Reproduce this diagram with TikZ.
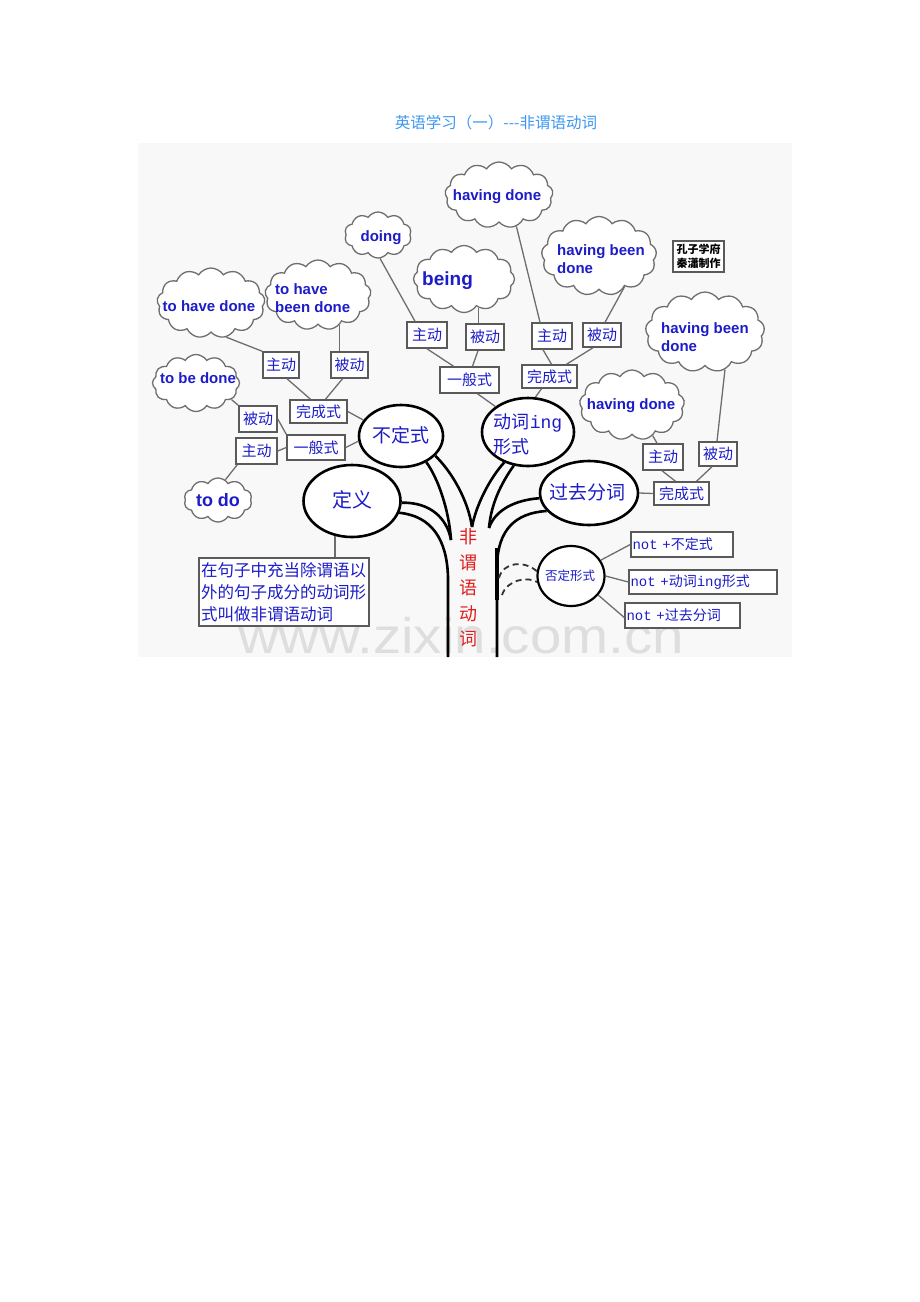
\documentclass[tikz,border=0pt]{standalone}
\usepackage{fontspec}
\setmainfont{Liberation Sans}
\newfontfamily\cjk{Noto Sans CJK SC}
\newfontfamily\mono{Liberation Mono}
\usetikzlibrary{shapes.symbols,shapes.geometric,calc}
\definecolor{tblue}{RGB}{28,28,200}
\definecolor{ttl}{RGB}{60,150,240}
\definecolor{tred}{RGB}{225,30,30}
\definecolor{lgray}{RGB}{110,110,110}
\definecolor{bgray}{RGB}{90,90,90}
\definecolor{wmc}{RGB}{222,222,222}
\definecolor{bgc}{RGB}{248,248,248}
\tikzset{
  cld/.style={cloud, cloud puffs=#1, cloud puff arc=115, cloud ignores aspect, draw=lgray, line width=1.3, fill=white, inner sep=0},
  cld/.default=11,
  ctext/.style={font=\bfseries\fontsize{15}{18}\selectfont, text=tblue, inner sep=0, align=left},
  bx/.style={draw=bgray, line width=1.5, fill=white, inner sep=0, font=\cjk\fontsize{15}{15}\selectfont, text=tblue},
  nbx/.style={bx, font=\cjk\fontsize{14}{14}\selectfont, align=left},
  ell/.style={ellipse, draw=black, line width=2.6, fill=white, inner sep=0},
  etext/.style={inner sep=0, text=tblue, font=\cjk\fontsize{19}{25}\selectfont, align=left},
  con/.style={draw=lgray, line width=1.3},
  br/.style={draw=black, line width=2.6},
  dsh/.style={draw=black!80, line width=1.8, dash pattern=on 6pt off 4pt},
}
\begin{document}
\begin{tikzpicture}[x=1pt,y=-1pt]
\useasboundingbox (0,0) rectangle (920,1302);
% title
\node[font=\cjk\fontsize{15.5}{15.5}\selectfont, text=ttl] (title) at (496,123) {英语学习（一）---非谓语动词};
% picture background
\fill[bgc] (138,143) rectangle (792,657);
\begin{scope}
\clip (138,143) rectangle (792,657);
\node[anchor=base, font=\fontsize{50}{50}\selectfont, text=wmc, xscale=1.13, inner sep=0] (wm) at (461,653) {www.zixin.com.cn};
\end{scope}

% ---------- ellipses ----------
\node[ell, minimum width=84, minimum height=62] (e_bdx) at (401,436) {};
\node[ell, minimum width=92, minimum height=68] (e_ing) at (528,432) {};
\node[ell, minimum width=97, minimum height=72] (e_dy) at (352,501) {};
\node[ell, minimum width=98, minimum height=64] (e_gq) at (589,493) {};
\node[ell, minimum width=67, minimum height=60, line width=2.2] (e_fd) at (571,576) {};
\node[etext] (t_bdx) at (401,435) {不定式};
\node[etext, font=\cjk\fontsize{18}{25}\selectfont] (t_ing) at (528,434) {动词{\mono ing}\\形式};
\node[etext, font=\cjk\fontsize{20}{20}\selectfont] (t_dy) at (352,500) {定义};
\node[etext] (t_gq) at (587,492) {过去分词};
\node[etext, font=\cjk\fontsize{12.5}{12.5}\selectfont] (t_fd) at (570,576) {否定形式};

% ---------- branches / trunk ----------
\coordinate (k1) at (451,540);
\coordinate (k2) at (472,527);
\coordinate (k3) at (489,528);
\coordinate (tl) at (448,657);
\coordinate (trr) at (497,657);
\draw[br] (e_dy.-14) .. controls (432,516) and (447,540) .. (448,577) -- (tl);
\draw[br] (e_dy.-2) .. controls (430,502) and (447,518) .. (k1);
\draw[br] (e_bdx.-46) .. controls (438,478) and (449,510) .. (k1);
\draw[br] (e_bdx.-30) .. controls (452,472) and (468,500) .. (k2);
\draw[br] (e_ing.-128) .. controls (490,478) and (476,505) .. (k2);
\draw[br] (e_ing.-113) .. controls (500,485) and (491,505) .. (k3);
\draw[br] (e_gq.186) .. controls (515,500) and (495,510) .. (k3);
\draw[br] (e_gq.203) .. controls (515,513) and (498,530) .. (497,565) -- (trr);
\coordinate (tk1) at (497,548);
\coordinate (tk2) at (497,600);
\draw[line width=4] (tk1) -- (tk2);
\node[font=\cjk\fontsize{18}{25.5}\selectfont, text=tred, align=center, inner sep=0] (trunk) at (468,588) {非\\谓\\语\\动\\词};
% dashed links to 否定形式
\coordinate (d1) at (499,578);
\coordinate (d2) at (502,595);
\draw[dsh] (d1) .. controls (503,562) and (524,560) .. (e_fd.172);
\draw[dsh] (d2) .. controls (507,580) and (527,576) .. (e_fd.190);

% ---------- clouds ----------
\node[cld=13, minimum width=108, minimum height=66] (c_hd1) at (499,195) {};
\node[cld=10, minimum width=67, minimum height=46] (c_doing) at (378,235) {};
\node[cld=12, minimum width=101, minimum height=67] (c_being) at (464,279) {};
\node[cld=13, minimum width=115, minimum height=79] (c_hbd1) at (599,256) {};
\node[cld=13, minimum width=108, minimum height=70] (c_thd) at (211,303) {};
\node[cld=13, minimum width=106, minimum height=70] (c_thbd) at (318,295) {};
\node[cld=12, minimum width=87, minimum height=57] (c_tbd) at (196,383) {};
\node[cld=10, minimum width=68, minimum height=44] (c_todo) at (218,500) {};
\node[cld=13, minimum width=119, minimum height=80] (c_hbd2) at (705,332) {};
\node[cld=13, minimum width=105, minimum height=70] (c_hd2) at (632,405) {};
\node[ctext] (t_hd1) at (497,197) {having done};
\node[ctext] (t_doing) at (381,238) {doing};
\node[ctext, font=\bfseries\fontsize{19}{19}\selectfont, anchor=west] (t_being) at (422,281) {being};
\node[ctext, anchor=west] (t_hbd1) at (557,259) {having been\\done};
\node[ctext] (t_thd) at (209,306) {to have done};
\node[ctext, anchor=west] (t_thbd) at (275,298) {to have\\been done};
\node[ctext] (t_tbd) at (198,378) {to be done};
\node[ctext, font=\bfseries\fontsize{18}{18}\selectfont] (t_todo) at (218,500) {to do};
\node[ctext, anchor=west] (t_hbd2) at (661,337) {having been\\done};
\node[ctext] (t_hd2) at (631,406) {having done};

% ---------- boxes ----------
\node[bx, minimum width=36, minimum height=26] (zd1) at (281,365) {主动};
\node[bx, minimum width=37, minimum height=26] (bd1) at (349.5,365) {被动};
\node[bx, minimum width=57, minimum height=23] (wc1) at (318.5,411.5) {完成式};
\node[bx, minimum width=38, minimum height=26] (bd2) at (258,419) {被动};
\node[bx, minimum width=41, minimum height=26] (zd2) at (256.5,451) {主动};
\node[bx, minimum width=58, minimum height=25] (yb1) at (316,447.5) {一般式};
\node[bx, minimum width=40, minimum height=26] (zd3) at (427,335) {主动};
\node[bx, minimum width=38, minimum height=26] (bd3) at (485,337) {被动};
\node[bx, minimum width=59, minimum height=26] (yb2) at (469.5,380) {一般式};
\node[bx, minimum width=40, minimum height=26] (zd4) at (552,336) {主动};
\node[bx, minimum width=38, minimum height=24] (bd4) at (602,335) {被动};
\node[bx, minimum width=55, minimum height=23] (wc2) at (549.5,376.5) {完成式};
\node[bx, minimum width=40, minimum height=26] (zd5) at (663,457) {主动};
\node[bx, minimum width=38, minimum height=24] (bd5) at (718,454) {被动};
\node[bx, minimum width=55, minimum height=23] (wc3) at (681.5,493.5) {完成式};
\node[nbx, minimum width=102, minimum height=25, text width=99] (n1) at (682,544.5) {{\mono not +}不定式};
\node[nbx, minimum width=148, minimum height=24, text width=145] (n2) at (703,582) {{\mono not +}动词{\mono ing}形式};
\node[nbx, minimum width=115, minimum height=25, text width=112] (n3) at (682.5,615.5) {{\mono not +}过去分词};
\node[bx, minimum width=170, minimum height=68, text width=166, align=left, font=\cjk\fontsize{16.5}{22}\selectfont] (def) at (284,592) {在句子中充当除谓语以\\外的句子成分的动词形\\式叫做非谓语动词};
\node[bx, minimum width=51, minimum height=31, align=center, text=black, font=\cjk\bfseries\fontsize{11}{14}\selectfont] (kz) at (698.5,256.5) {孔子学府\\秦瀟制作};

% ---------- connectors ----------
\draw[con] (c_thd.-66) -- (zd1.north west);
\draw[con] (c_thbd.-55) -- (c_thbd.-55 |- bd1.north);
\draw[con] ($(zd1.south)+(6,0)$) -- ($(wc1.north)+(-8,0)$);
\draw[con] ($(bd1.south)+(-7,0)$) -- ($(wc1.north)+(7,0)$);
\draw[con] (wc1.east) -- (e_bdx.157);
\draw[con] (c_tbd.-25) -- (bd2.north west);
\draw[con] (bd2.east) -- (yb1.north west);
\draw[con] (zd2.east) -- (yb1.west);
\draw[con] ($(zd2.south west)+(2,0)$) -- (c_todo.70);
\draw[con] (yb1.east) -- (e_bdx.187);
\draw[con] (c_doing.-85) -- ($(zd3.north)+(-12,0)$);
\draw[con] (c_being.-63) -- (c_being.-63 |- bd3.north);
\draw[con] (zd3.south) -- ($(yb2.north)+(-16,0)$);
\draw[con] ($(bd3.south)+(-7,0)$) -- ($(yb2.north)+(3,0)$);
\draw[con] ($(yb2.south)+(8,0)$) -- (e_ing.142);
\draw[con] (c_hd1.-61) -- ($(zd4.north)+(-12,0)$);
\draw[con] (c_hbd1.-50) -- ($(bd4.north)+(3,0)$);
\draw[con] ($(zd4.south)+(-9,0)$) -- ($(wc2.north)+(2,0)$);
\draw[con] ($(bd4.south)+(-9,0)$) -- ($(wc2.north)+(17,0)$);
\draw[con] ($(wc2.south)+(-8,0)$) -- (e_ing.78);
\draw[con] (c_hbd2.-62) -- ($(bd5.north)+(-1,0)$);
\draw[con] (c_hd2.-56) -- ($(zd5.north)+(-6,0)$);
\draw[con] ($(zd5.south)+(-1,0)$) -- ($(wc3.north)+(-6,0)$);
\draw[con] ($(bd5.south)+(-6,0)$) -- ($(wc3.north)+(15,0)$);
\draw[con] (wc3.west) -- (e_gq.east);
\draw[con] (e_dy.-116) -- (e_dy.-116 |- def.north);
\draw[con] (e_fd.28) -- (n1.west);
\draw[con] (e_fd.east) -- (n2.west);
\draw[con] (e_fd.-35) -- ($(n3.west)+(0,2)$);
\end{tikzpicture}
\end{document}
